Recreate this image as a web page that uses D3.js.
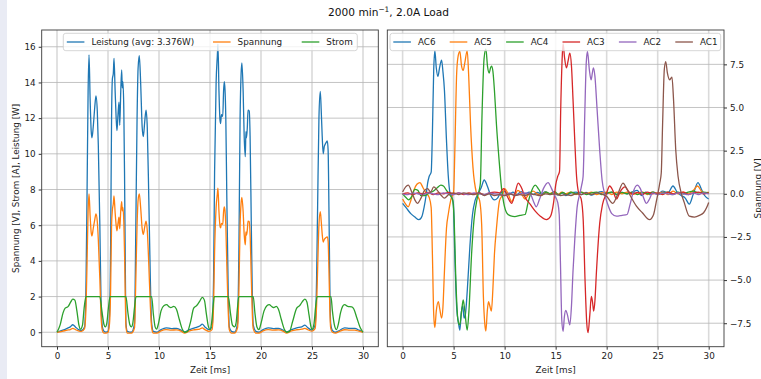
<!doctype html>
<html>
<head>
<meta charset="utf-8">
<script src="https://d3js.org/d3.v7.min.js"></script>
<style>
  body { margin: 0; background: #fff; }
  svg { font-family: "DejaVu Sans", sans-serif; display: block; }
  .tick text { font-size: 8.8px; fill: #222; }
  .tick line { stroke: #333; }
  .domain { display: none; }
</style>
</head>
<body>
<div id="chart"></div>
<script>

// left panel: Zeit [ms] vs value
var leistung = [[0,0.0],[0.5,0.1],[1.0,0.22],[1.3,0.3],[1.55,0.42],[1.8,0.3],[2.1,0.15],[2.4,0.1],[2.7,0.3],[2.85,3.0],[2.95,8.0],[3.05,13.5],[3.14,15.55],[3.25,13.0],[3.35,11.3],[3.43,10.9],[3.55,11.5],[3.7,12.6],[3.82,13.25],[3.95,12.4],[4.05,10.5],[4.2,6.0],[4.31,2.0],[4.45,0.3],[4.6,0.05],[4.8,0.0],[5.0,0.05],[5.15,1.0],[5.26,5.0],[5.35,12.0],[5.43,14.2],[5.52,14.5],[5.59,15.35],[5.7,13.5],[5.8,12.0],[5.88,11.3],[5.98,12.2],[6.08,12.9],[6.15,11.6],[6.25,13.5],[6.34,14.7],[6.4,13.7],[6.46,14.05],[6.55,12.5],[6.62,9.0],[6.7,3.5],[6.76,0.5],[6.9,0.05],[7.3,0.0],[7.6,0.5],[7.71,5.0],[7.85,12.0],[7.95,14.8],[8.07,15.5],[8.2,14.0],[8.35,11.5],[8.46,10.96],[8.6,11.8],[8.73,12.45],[8.85,11.5],[9.0,7.5],[9.15,3.0],[9.28,0.5],[9.45,0.05],[9.8,0.0],[10.2,0.15],[10.7,0.25],[11.2,0.2],[11.7,0.22],[12.2,0.1],[12.5,0.02],[13.0,0.15],[13.5,0.25],[14.0,0.35],[14.24,0.45],[14.5,0.3],[14.9,0.15],[15.2,0.3],[15.35,3.0],[15.45,9.0],[15.6,14.0],[15.72,15.5],[15.78,16.15],[15.88,13.5],[15.98,11.9],[16.04,11.7],[16.12,12.2],[16.25,12.1],[16.33,13.5],[16.4,14.05],[16.47,13.6],[16.55,12.0],[16.65,7.5],[16.78,2.5],[16.89,0.3],[17.1,0.05],[17.4,0.0],[17.7,0.5],[17.84,5.0],[17.95,12.0],[18.05,14.5],[18.13,15.1],[18.25,13.5],[18.35,11.0],[18.46,9.84],[18.52,11.24],[18.58,10.9],[18.66,11.5],[18.73,12.45],[18.85,12.4],[18.93,11.0],[19.05,6.0],[19.15,2.0],[19.24,0.4],[19.5,0.05],[19.8,0.0],[20.2,0.15],[20.7,0.25],[21.2,0.2],[21.7,0.22],[22.2,0.1],[22.5,0.02],[23.0,0.15],[23.5,0.25],[24.0,0.3],[24.3,0.4],[24.6,0.25],[25.0,0.12],[25.3,0.4],[25.45,3.0],[25.55,7.0],[25.68,12.0],[25.81,13.5],[25.9,12.5],[26.0,11.0],[26.1,10.0],[26.2,10.4],[26.35,10.6],[26.5,10.73],[26.58,10.2],[26.66,7.0],[26.75,2.5],[26.83,0.5],[27.0,0.1],[27.3,0.0],[27.7,0.1],[28.2,0.25],[28.7,0.22],[29.2,0.22],[29.6,0.12],[30,0.0]];

var spannung = [[0,0.0],[0.5,0.05],[1.0,0.12],[1.3,0.15],[1.55,0.22],[1.8,0.15],[2.1,0.08],[2.4,0.05],[2.7,0.2],[2.85,1.5],[2.95,4.0],[3.05,6.8],[3.14,7.75],[3.25,6.5],[3.35,5.6],[3.43,5.4],[3.55,5.8],[3.7,6.3],[3.82,6.63],[3.95,6.2],[4.05,5.2],[4.2,3.0],[4.31,1.0],[4.45,0.1],[4.6,-0.05],[4.8,-0.05],[5.0,0.0],[5.15,0.5],[5.26,2.5],[5.35,6.0],[5.43,6.85],[5.52,7.2],[5.59,7.64],[5.7,6.7],[5.8,6.0],[5.88,5.69],[5.98,6.1],[6.08,6.45],[6.15,5.8],[6.25,6.8],[6.34,7.32],[6.4,6.8],[6.46,7.0],[6.55,6.2],[6.62,4.5],[6.7,1.8],[6.76,0.3],[6.9,-0.05],[7.3,-0.05],[7.6,0.25],[7.71,2.5],[7.85,6.0],[7.95,7.4],[8.07,7.75],[8.2,7.0],[8.35,5.8],[8.46,5.48],[8.6,5.9],[8.73,6.22],[8.85,5.7],[9.0,3.8],[9.15,1.5],[9.28,0.25],[9.45,-0.05],[9.8,-0.05],[10.2,0.08],[10.7,0.15],[11.2,0.12],[11.7,0.13],[12.2,0.05],[12.5,-0.05],[13.0,0.08],[13.5,0.14],[14.0,0.18],[14.24,0.24],[14.5,0.15],[14.9,0.05],[15.2,0.15],[15.35,1.5],[15.45,4.5],[15.6,7.0],[15.72,7.75],[15.78,8.07],[15.88,6.75],[15.98,5.95],[16.04,5.85],[16.12,6.1],[16.25,6.05],[16.33,6.75],[16.4,7.02],[16.47,6.8],[16.55,6.0],[16.65,3.75],[16.78,1.25],[16.89,0.15],[17.1,-0.05],[17.4,-0.05],[17.7,0.25],[17.84,2.5],[17.95,6.0],[18.05,7.25],[18.13,7.56],[18.25,6.75],[18.35,5.5],[18.46,4.9],[18.52,5.62],[18.58,5.45],[18.66,5.75],[18.73,6.22],[18.85,6.2],[18.93,5.5],[19.05,3.0],[19.15,1.0],[19.24,0.2],[19.5,-0.05],[19.8,-0.05],[20.2,0.08],[20.7,0.15],[21.2,0.12],[21.7,0.13],[22.2,0.05],[22.5,-0.05],[23.0,0.08],[23.5,0.14],[24.0,0.17],[24.3,0.22],[24.6,0.14],[25.0,0.06],[25.3,0.2],[25.45,1.5],[25.55,3.5],[25.68,6.0],[25.81,6.76],[25.9,6.25],[26.0,5.5],[26.1,5.05],[26.2,5.2],[26.35,5.3],[26.5,5.35],[26.58,5.1],[26.66,3.5],[26.75,1.25],[26.83,0.25],[27.0,0.0],[27.3,-0.05],[27.7,0.05],[28.2,0.14],[28.7,0.12],[29.2,0.12],[29.6,0.06],[30,0.0]];

var strom = [[0,0],[0.3,0.4],[0.6,1.1],[0.8,1.35],[1.1,1.45],[1.35,1.7],[1.55,1.86],[1.75,1.8],[1.95,1.2],[2.15,0.4],[2.3,0.17],[2.5,0.4],[2.65,1.3],[2.84,2.0],[4.2,2.0],[4.4,1.2],[4.6,0.45],[4.74,0.3],[4.88,0.5],[5.05,1.4],[5.2,2.0],[6.76,2.0],[6.95,1.1],[7.15,0.4],[7.29,0.3],[7.43,0.5],[7.6,1.4],[7.75,2.0],[9.28,2.0],[9.45,1.0],[9.62,0.3],[9.76,0.17],[9.95,0.5],[10.2,1.2],[10.5,1.5],[10.75,1.55],[11.0,1.42],[11.15,1.38],[11.45,1.45],[11.7,1.3],[12.0,0.7],[12.3,0.15],[12.5,0.0],[12.8,0.05],[13.1,0.6],[13.4,1.35],[13.7,1.5],[14.0,1.75],[14.24,1.96],[14.45,1.8],[14.65,1.0],[14.85,0.3],[15.0,0.15],[15.15,0.5],[15.3,1.4],[15.42,2.0],[16.8,2.0],[17.0,1.1],[17.2,0.4],[17.4,0.3],[17.55,0.5],[17.7,1.4],[17.82,2.0],[19.24,2.0],[19.4,1.1],[19.6,0.3],[19.8,0.15],[20.0,0.5],[20.3,1.2],[20.6,1.5],[20.8,1.55],[21.1,1.42],[21.25,1.38],[21.5,1.45],[21.7,1.3],[22.0,0.7],[22.3,0.15],[22.5,0.0],[22.8,0.05],[23.1,0.6],[23.5,1.35],[23.8,1.5],[24.1,1.75],[24.3,1.86],[24.5,1.7],[24.7,1.0],[24.9,0.3],[25.0,0.15],[25.2,0.5],[25.35,1.4],[25.5,2.0],[26.86,2.0],[27.0,1.2],[27.2,0.4],[27.4,0.15],[27.6,0.5],[27.8,1.1],[28.0,1.45],[28.2,1.55],[28.5,1.45],[28.9,1.42],[29.1,1.3],[29.4,0.8],[29.7,0.3],[30,0.0]];

// right panel: phase voltages
var ac6 = [[0,-0.55],[0.4,-0.85],[0.8,-1.15],[1.2,-1.35],[1.6,-1.5],[1.9,-1.3],[2.1,-0.8],[2.3,-0.1],[2.45,0.6],[2.6,1.0],[2.8,1.25],[2.92,3.5],[3.05,7.2],[3.16,8.3],[3.3,7.3],[3.46,6.8],[3.62,7.3],[3.82,7.75],[3.95,7.1],[4.1,6.0],[4.3,3.1],[4.48,1.0],[4.63,0.1],[4.8,-0.15],[4.98,-0.6],[5.1,-3.2],[5.3,-6.6],[5.48,-7.5],[5.61,-7.9],[5.75,-6.9],[5.9,-6.5],[6.02,-7.2],[6.15,-7.0],[6.35,-5.5],[6.6,-3.0],[6.85,-1.2],[7.1,-0.4],[7.4,0.0],[7.7,0.35],[8.0,0.8],[8.3,0.45],[8.6,-0.05],[9.0,-0.35],[9.3,-0.25],[9.6,0.05],[10.0,0.12],[10.4,-0.08],[10.8,0.1],[11.2,-0.05],[11.6,0.12],[12.0,0.0],[12.4,0.1],[12.8,-0.05],[13.2,0.08],[13.6,0.0],[14.0,0.12],[14.4,-0.05],[14.8,0.1],[15.2,-0.08],[15.6,0.05],[16.0,-0.1],[16.5,0.05],[17.0,0.1],[17.5,-0.05],[18.0,0.08],[18.5,-0.08],[19.0,0.05],[19.5,0.12],[20.0,0.0],[20.5,0.1],[21.0,-0.05],[21.5,0.08],[22.0,0.0],[22.5,0.1],[23.0,0.2],[23.4,-0.1],[23.8,0.1],[24.2,-0.05],[24.6,0.1],[25.0,0.0],[25.5,0.15],[26.0,0.05],[26.5,0.45],[26.9,0.1],[27.3,-0.1],[27.7,-0.25],[28.1,-0.6],[28.5,0.0],[28.95,0.65],[29.3,0.25],[29.6,-0.1],[30.0,-0.3]];

var ac5 = [[0,-0.3],[0.3,-0.6],[0.55,-0.75],[0.8,-0.4],[1.1,0.2],[1.4,0.55],[1.7,0.65],[2.0,0.35],[2.3,0.05],[2.6,-0.2],[2.8,-0.8],[2.92,-3.5],[3.05,-7.0],[3.16,-7.75],[3.3,-6.8],[3.5,-6.25],[3.65,-6.7],[3.82,-7.2],[3.95,-6.6],[4.1,-4.5],[4.3,-2.0],[4.5,-1.1],[4.75,-0.3],[5.0,0.1],[5.12,2.5],[5.3,7.0],[5.45,8.0],[5.61,8.25],[5.78,7.4],[5.94,7.15],[6.1,7.6],[6.33,8.3],[6.48,6.8],[6.66,4.0],[6.9,1.5],[7.25,0.0],[7.55,-0.4],[7.75,-1.8],[7.92,-6.0],[8.05,-7.5],[8.16,-7.95],[8.3,-6.8],[8.42,-6.25],[8.55,-6.5],[8.7,-6.8],[8.85,-5.5],[9.0,-3.5],[9.2,-2.0],[9.5,-0.4],[9.8,-0.05],[10.0,0.3],[10.3,0.05],[10.7,-0.45],[11.0,-0.1],[11.3,0.2],[11.6,0.05],[12.0,-0.3],[12.4,0.0],[12.8,0.15],[13.2,0.0],[13.6,-0.1],[14.0,0.1],[14.4,0.0],[14.8,0.1],[15.2,-0.05],[15.6,0.1],[16.0,0.0],[16.5,0.1],[17.0,-0.05],[17.5,0.1],[18.0,0.0],[18.5,0.1],[19.0,-0.05],[19.5,0.05],[20.0,0.1],[20.5,-0.05],[21.0,0.1],[21.5,0.0],[22.0,0.1],[22.5,-0.05],[23.0,0.05],[23.5,0.1],[24.0,-0.05],[24.5,0.1],[25.0,0.0],[25.5,0.1],[26.0,-0.05],[26.5,0.15],[27.0,0.0],[27.5,0.1],[28.0,0.0],[28.5,0.2],[28.9,0.45],[29.3,0.15],[29.7,0.05],[30.0,0.1]];

var ac4 = [[0,0.0],[0.3,-0.2],[0.6,-0.35],[0.9,-0.15],[1.2,0.25],[1.5,0.2],[1.8,-0.1],[2.2,-0.1],[2.6,0.05],[3.0,0.15],[3.4,0.35],[3.75,0.5],[4.0,0.45],[4.3,0.2],[4.6,-0.05],[4.9,-0.35],[5.05,-1.5],[5.22,-5.0],[5.42,-7.3],[5.6,-7.6],[5.78,-6.8],[5.94,-6.15],[6.1,-6.8],[6.33,-7.9],[6.5,-6.8],[6.76,-3.5],[7.0,-1.5],[7.3,-0.3],[7.5,0.2],[7.62,0.6],[7.78,4.5],[7.98,7.8],[8.16,8.4],[8.32,7.4],[8.49,7.0],[8.62,7.3],[8.72,7.4],[8.85,7.1],[9.0,6.0],[9.2,4.0],[9.45,2.0],[9.7,0.3],[9.9,-0.5],[10.2,-1.1],[10.6,-1.28],[11.0,-1.32],[11.5,-1.25],[12.0,-1.2],[12.3,-0.5],[12.6,0.1],[13.0,0.5],[13.35,0.25],[13.7,-0.05],[14.1,0.1],[14.5,0.0],[14.9,0.12],[15.3,-0.05],[15.7,0.08],[16.1,-0.05],[16.5,0.1],[17.0,0.0],[17.5,0.1],[18.0,-0.05],[18.5,0.05],[19.0,0.1],[19.5,-0.05],[20.0,0.05],[20.5,0.1],[21.0,-0.05],[21.5,0.08],[22.0,0.0],[22.5,0.1],[23.0,-0.05],[23.5,0.08],[24.0,0.0],[24.5,0.1],[25.0,-0.05],[25.5,0.05],[26.0,0.1],[26.5,-0.05],[27.0,0.1],[27.5,0.0],[28.0,0.1],[28.5,0.15],[29.0,0.05],[29.5,0.1],[30.0,0.05]];

var ac3 = [[0,0.0],[0.5,0.05],[1.0,-0.05],[1.5,0.05],[2.0,0.0],[2.5,0.08],[3.0,-0.05],[3.5,0.05],[4.0,0.0],[4.5,0.08],[5.0,0.0],[5.5,0.05],[6.0,-0.05],[6.5,0.05],[7.0,0.0],[7.5,0.05],[8.0,-0.05],[8.5,0.05],[9.0,0.1],[9.5,0.05],[9.9,0.3],[10.3,-0.2],[10.7,-0.55],[11.0,0.0],[11.33,0.62],[11.65,0.35],[12.0,-0.2],[12.5,-0.6],[13.0,-1.0],[13.5,-1.3],[14.1,-1.5],[14.5,-1.3],[14.8,-0.5],[15.0,0.5],[15.2,1.0],[15.38,1.3],[15.5,5.0],[15.65,8.0],[15.73,8.7],[15.87,7.9],[16.06,7.3],[16.22,7.7],[16.39,8.15],[16.55,7.4],[16.7,5.5],[16.88,3.0],[17.05,1.0],[17.27,0.0],[17.5,-0.3],[17.7,-1.5],[17.88,-5.0],[18.05,-7.5],[18.18,-8.05],[18.35,-7.0],[18.5,-5.95],[18.62,-6.3],[18.73,-6.8],[18.85,-6.2],[19.0,-4.5],[19.32,-1.7],[19.6,-0.6],[19.97,0.0],[20.3,0.45],[20.6,0.2],[20.96,-0.3],[21.3,0.1],[21.8,0.4],[22.2,0.1],[22.6,0.0],[23.0,0.08],[23.5,-0.05],[24.0,0.1],[24.5,0.0],[25.0,0.05],[25.5,-0.05],[26.0,0.1],[26.5,0.0],[27.0,0.05],[27.5,0.1],[28.0,-0.05],[28.5,0.05],[29.0,0.1],[29.5,0.0],[30.0,0.05]];

var ac2 = [[0,0.0],[0.5,-0.05],[1.0,0.05],[1.5,0.0],[2.0,-0.05],[2.5,0.05],[3.0,0.0],[3.5,-0.05],[4.0,0.05],[4.5,0.0],[5.0,-0.05],[5.5,0.05],[6.0,0.0],[6.5,-0.05],[7.0,0.05],[7.5,0.0],[8.0,-0.05],[8.5,0.05],[9.0,0.0],[9.5,-0.05],[10.0,-0.1],[10.5,0.05],[11.0,-0.1],[11.5,0.0],[12.0,0.05],[12.5,0.0],[12.8,-0.4],[13.1,-0.75],[13.4,-0.35],[13.8,0.3],[14.26,0.65],[14.6,0.3],[14.9,-0.1],[15.2,-0.5],[15.35,-1.2],[15.47,-4.0],[15.6,-7.3],[15.73,-7.97],[15.86,-7.1],[15.99,-6.76],[16.15,-7.0],[16.39,-7.6],[16.55,-6.5],[16.7,-4.5],[16.88,-2.6],[17.1,-0.8],[17.37,0.0],[17.55,0.5],[17.69,1.0],[17.85,4.5],[18.0,7.6],[18.12,8.25],[18.3,7.2],[18.47,6.6],[18.6,7.0],[18.7,7.3],[18.85,6.8],[19.05,5.0],[19.32,2.5],[19.55,0.8],[19.8,0.0],[20.1,-0.6],[20.5,-1.15],[20.96,-1.3],[21.5,-1.25],[22.0,-1.2],[22.3,-0.6],[22.6,0.1],[23.0,0.5],[23.3,0.3],[23.6,-0.2],[23.9,-0.55],[24.2,-0.3],[24.5,0.05],[25.0,-0.05],[25.5,0.05],[26.0,0.0],[26.5,-0.05],[27.0,0.05],[27.5,0.0],[28.0,-0.05],[28.5,0.05],[29.0,-0.05],[29.5,0.05],[30.0,0.0]];

var ac1 = [[0,0.1],[0.3,0.4],[0.55,0.5],[0.9,0.1],[1.2,-0.35],[1.45,-0.55],[1.8,-0.25],[2.1,0.15],[2.45,0.3],[2.75,0.1],[3.05,0.4],[3.4,0.2],[3.8,-0.1],[4.1,-0.25],[4.5,-0.05],[5.0,0.05],[5.5,-0.05],[6.0,0.05],[6.5,0.0],[7.0,-0.05],[7.5,0.05],[8.0,-0.1],[8.5,0.0],[9.0,-0.1],[9.5,-0.05],[10.0,-0.1],[10.5,0.0],[11.0,-0.1],[11.5,-0.05],[12.0,-0.1],[12.5,0.0],[13.0,-0.05],[13.5,-0.1],[14.0,0.0],[14.5,-0.05],[15.0,0.0],[15.5,-0.1],[16.0,-0.05],[16.5,-0.1],[17.0,0.0],[17.5,-0.05],[18.0,0.05],[18.5,-0.05],[19.0,0.05],[19.5,0.0],[20.0,-0.15],[20.6,-0.55],[21.1,0.0],[21.6,0.62],[22.0,0.25],[22.4,-0.2],[22.9,-0.7],[23.5,-1.1],[24.2,-1.5],[24.6,-1.2],[24.85,-0.5],[25.05,0.1],[25.2,0.6],[25.35,1.2],[25.48,4.0],[25.65,7.2],[25.79,7.66],[25.95,7.0],[26.18,6.6],[26.3,6.7],[26.4,6.76],[26.55,5.5],[26.77,2.55],[27.0,1.0],[27.33,0.0],[27.6,-0.5],[28.1,-1.3],[28.6,-1.35],[29.1,-1.25],[29.5,-1.1],[29.8,-0.8],[30.0,-0.5]];

var leftNames = ["Leistung (avg: 3.376W)", "Spannung", "Strom"];
var rightNames = ["AC6", "AC5", "AC4", "AC3", "AC2", "AC1"];
var xTicks = [0, 5, 10, 15, 20, 25, 30];
var yTicksLeft = [0, 2, 4, 6, 8, 10, 12, 14, 16];
var yTicksRight = [-7.5, -5, -2.5, 0, 2.5, 5, 7.5];

var tab10 = ["#1f77b4", "#ff7f0e", "#2ca02c", "#d62728", "#9467bd", "#8c564b"];

var W = 761, H = 379;
var plotTop = 30, plotBottom = 346.7;

var svg = d3.select("#chart").append("svg")
    .attr("width", W)
    .attr("height", H);

// the pale strip at the left edge of the screenshot
svg.append("rect").attr("x", 0).attr("y", 0).attr("width", 7).attr("height", H).attr("fill", "#e9ebf4");

// title
var title = svg.append("text")
    .attr("x", 388.5)
    .attr("y", 16)
    .attr("text-anchor", "middle")
    .attr("font-size", "10.6px")
    .attr("fill", "#111");
title.append("tspan").text("2000 min");
title.append("tspan").attr("dy", -4).attr("font-size", "7.4px").text("\u22121");
title.append("tspan").attr("dy", 4).text(", 2.0A Load");

var fmtRight = function(d) { return d3.format(".1f")(d).replace("-", "\u2212"); };

function panel(x0, x1, yDomain, yTicks, yFmt, rightAxis) {
    var g = svg.append("g");
    var x = d3.scaleLinear().domain([-1.5, 31.5]).range([x0, x1]);
    var y = d3.scaleLinear().domain(yDomain).range([plotBottom, plotTop]);

    // grid
    g.append("g").selectAll("line").data(xTicks).join("line")
        .attr("x1", d => x(d)).attr("x2", d => x(d))
        .attr("y1", plotTop).attr("y2", plotBottom)
        .attr("stroke", "#dadada").attr("stroke-width", 1.6);
    g.append("g").selectAll("line").data(yTicks).join("line")
        .attr("x1", x0).attr("x2", x1)
        .attr("y1", d => y(d)).attr("y2", d => y(d))
        .attr("stroke", "#b5b5b5").attr("stroke-width", 0.8);

    // axes
    g.append("g")
        .attr("transform", "translate(0," + plotBottom + ")")
        .call(d3.axisBottom(x).tickValues(xTicks).tickSize(3).tickPadding(3).tickFormat(d3.format("d")));
    if (rightAxis) {
        g.append("g")
            .attr("transform", "translate(" + x1 + ",0)")
            .call(d3.axisRight(y).tickValues(yTicks).tickSize(3).tickPadding(3).tickFormat(yFmt));
    } else {
        g.append("g")
            .attr("transform", "translate(" + x0 + ",0)")
            .call(d3.axisLeft(y).tickValues(yTicks).tickSize(3).tickPadding(3).tickFormat(yFmt));
    }
    g.selectAll(".tick text").attr("font-family", "DejaVu Sans");

    // x label
    g.append("text")
        .attr("x", (x0 + x1) / 2)
        .attr("y", 372.5)
        .attr("text-anchor", "middle")
        .attr("font-size", "8.8px")
        .attr("fill", "#222")
        .text("Zeit [ms]");

    var clipId = "clip" + Math.round(x0);
    svg.append("clipPath").attr("id", clipId)
        .append("rect").attr("x", x0).attr("y", plotTop).attr("width", x1 - x0).attr("height", plotBottom - plotTop);

    var plot = g.append("g").attr("clip-path", "url(#" + clipId + ")");
    return { g: g, x: x, y: y, plot: plot, x0: x0, x1: x1 };
}

function frame(p) {
    p.g.append("rect")
        .attr("x", p.x0).attr("y", plotTop)
        .attr("width", p.x1 - p.x0).attr("height", plotBottom - plotTop)
        .attr("fill", "none").attr("stroke", "#3a3a3a").attr("stroke-width", 0.9);
}

function drawLines(p, series) {
    var line = d3.line()
        .x(d => p.x(d[0]))
        .y(d => p.y(d[1]))
        .curve(d3.curveMonotoneX);
    p.plot.selectAll("path.s").data(series).join("path")
        .attr("class", "s")
        .attr("d", d => line(d))
        .attr("fill", "none")
        .attr("stroke", (d, i) => tab10[i])
        .attr("stroke-width", 1.3)
        .attr("stroke-linejoin", "round");
}

function legend(p, bx, bw, names, offsets) {
    var lg = p.g.append("g");
    lg.append("rect")
        .attr("x", bx).attr("y", 33.3)
        .attr("width", bw).attr("height", 17.4)
        .attr("rx", 2.5)
        .attr("fill", "#fff").attr("fill-opacity", 0.8)
        .attr("stroke", "#cccccc").attr("stroke-width", 0.8);
    names.forEach(function(n, i) {
        var lx = bx + offsets[i];
        lg.append("line")
            .attr("x1", lx).attr("x2", lx + 17.6)
            .attr("y1", 42).attr("y2", 42)
            .attr("stroke", tab10[i]).attr("stroke-width", 1.3);
        lg.append("text")
            .attr("x", lx + 24.6).attr("y", 45.2)
            .attr("font-size", "8.8px")
            .attr("fill", "#222")
            .text(n);
    });
}

// left panel
var L = panel(41.7, 378.3, [-0.81, 16.94], yTicksLeft, d3.format("d"), false);
drawLines(L, [leistung, spannung, strom]);
frame(L);
legend(L, 63.3, 294, leftNames, [3.5, 149.7, 238.4]);

svg.append("text")
    .attr("transform", "translate(18.5," + (plotTop + plotBottom) / 2 + ") rotate(-90)")
    .attr("text-anchor", "middle")
    .attr("font-size", "8.8px")
    .attr("fill", "#222")
    .text("Spannung [V], Strom [A], Leistung [W]");

// right panel
var R = panel(387.3, 724, [-8.86, 9.49], yTicksRight, fmtRight, true);
drawLines(R, [ac6, ac5, ac4, ac3, ac2, ac1]);
frame(R);
legend(R, 390, 330.7, rightNames, rightNames.map((d, i) => 3.3 + i * 56.4));

svg.append("text")
    .attr("transform", "translate(760.5," + (plotTop + plotBottom) / 2 + ") rotate(-90)")
    .attr("text-anchor", "middle")
    .attr("font-size", "8.8px")
    .attr("fill", "#222")
    .text("Spannung [V]");

</script>
</body>
</html>
